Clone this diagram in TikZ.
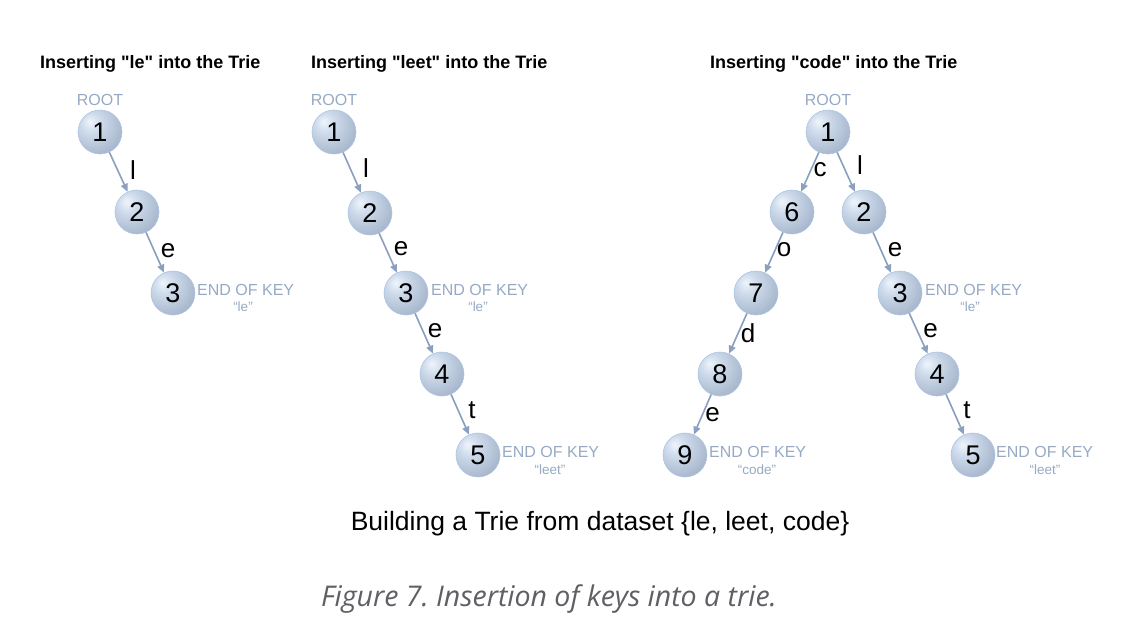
\documentclass[tikz,border=0pt]{standalone}
\usepackage{fontspec}
\setmainfont{Liberation Sans}
\newfontfamily\capfont{Open Sans}
\usetikzlibrary{arrows.meta}
\frenchspacing
\definecolor{ballhi}{RGB}{238,244,251}
\definecolor{ballmid}{RGB}{205,218,235}
\definecolor{ballc}{RGB}{170,185,206}
\definecolor{balldk}{RGB}{118,128,146}
\definecolor{ballrim}{RGB}{172,198,228}
\definecolor{edgec}{RGB}{138,160,190}
\definecolor{notec}{RGB}{150,170,196}
\definecolor{capc}{RGB}{95,95,100}
\pgfdeclareradialshading{ballshade}{\pgfpoint{-12bp}{12bp}}{color(0bp)=(ballhi); color(12bp)=(ballmid); color(32bp)=(ballc); color(58bp)=(balldk); color(80bp)=(balldk)}
\tikzset{
  ball/.style={circle, minimum size=44pt, inner sep=0pt, shading=ballshade, draw=ballrim, line width=0.6pt, font=\fontsize{27}{27}\selectfont, text=black},
  edge/.style={draw=edgec, line width=1.6pt, -{Triangle[width=7pt,length=8pt]}},
  lbl/.style={font=\fontsize{26}{26}\selectfont, text=black, inner sep=0pt},
  note/.style={font=\fontsize{16}{16}\selectfont, text=notec, inner sep=0pt},
  small/.style={font=\fontsize{13.5}{13.5}\selectfont, text=notec, inner sep=0pt},
  title/.style={font=\bfseries\fontsize{18}{18}\selectfont, anchor=west, inner sep=0pt}
}
\begin{document}
\begin{tikzpicture}[x=1pt,y=-1pt]
\useasboundingbox (0,0) rectangle (1144,632);
\fill[white] (0,0) rectangle (1144,632);
% titles
\node[title] (t1) at (40,64) {Inserting \textquotedbl le\textquotedbl{} into the Trie};
\node[title] (t2) at (311,64) {Inserting \textquotedbl leet\textquotedbl{} into the Trie};
\node[title] (t3) at (710,64) {Inserting \textquotedbl code\textquotedbl{} into the Trie};
% panel 1
\node[ball] (a1) at (100,132) {1};
\node[ball] (a2) at (137,212) {2};
\node[ball] (a3) at (173,293) {3};
\node[note] (ar) at (100,100) {ROOT};
\node[note, anchor=west] (ae) at (197,290) {END OF KEY};
\node[small] (aek) at (243,307) {“le”};
\draw[edge] (a1) -- node[lbl, xshift=14.5pt, yshift=2pt] {l} (a2);
\draw[edge] (a2) -- node[lbl, xshift=13pt, yshift=2pt] {e} (a3);
% panel 2
\node[ball] (b1) at (334,132) {1};
\node[ball] (b2) at (370,213) {2};
\node[ball] (b3) at (406,293) {3};
\node[ball] (b4) at (442,374) {4};
\node[ball] (b5) at (478,455) {5};
\node[note] (br) at (334,100) {ROOT};
\node[note, anchor=west] (be3) at (431,290) {END OF KEY};
\node[small] (bk3) at (478,307) {“le”};
\node[note, anchor=west] (be5) at (502,452) {END OF KEY};
\node[small] (bk5) at (550,470) {“leet”};
\draw[edge] (b1) -- node[lbl, xshift=14pt, yshift=4pt] {l} (b2);
\draw[edge] (b2) -- node[lbl, xshift=13pt, yshift=4pt] {e} (b3);
\draw[edge] (b3) -- node[lbl, xshift=11pt, yshift=3pt] {e} (b4);
\draw[edge] (b4) -- node[lbl, xshift=12pt, yshift=4pt] {t} (b5);
% panel 3
\node[ball] (c1) at (828,132) {1};
\node[ball] (c6) at (792,212) {6};
\node[ball] (c2) at (864,212) {2};
\node[ball] (c7) at (756,293) {7};
\node[ball] (c8) at (720,374) {8};
\node[ball] (c9) at (685,455) {9};
\node[ball] (c3) at (900,293) {3};
\node[ball] (c4) at (937,374) {4};
\node[ball] (c5) at (973,455) {5};
\node[note] (cr) at (828,100) {ROOT};
\node[note, anchor=west] (ce9) at (709,452) {END OF KEY};
\node[small] (ck9) at (757,470) {“code”};
\node[note, anchor=west] (ce3) at (925,290) {END OF KEY};
\node[small] (ck3) at (970,307) {“le”};
\node[note, anchor=west] (ce5) at (996,452) {END OF KEY};
\node[small] (ck5) at (1045,470) {“leet”};
\draw[edge] (c1) -- node[lbl, xshift=10pt, yshift=2pt] {c} (c6);
\draw[edge] (c1) -- node[lbl, xshift=14pt, yshift=7pt] {l} (c2);
\draw[edge] (c6) -- node[lbl, xshift=10pt, yshift=3pt] {o} (c7);
\draw[edge] (c7) -- node[lbl, xshift=10pt] {d} (c8);
\draw[edge] (c8) -- node[lbl, xshift=10pt] {e} (c9);
\draw[edge] (c2) -- node[lbl, xshift=13pt, yshift=3pt] {e} (c3);
\draw[edge] (c3) -- node[lbl, xshift=12pt, yshift=3pt] {e} (c4);
\draw[edge] (c4) -- node[lbl, xshift=12pt, yshift=4pt] {t} (c5);
% captions
\node[font=\fontsize{26.5}{26.5}\selectfont, inner sep=0pt] (cap1) at (600,524) {Building a Trie from dataset \{le, leet, code\}};
\node[font=\capfont\itshape\fontsize{28.5}{28.5}\selectfont, text=capc, inner sep=0pt] (cap2) at (549,599) {Figure 7. Insertion of keys into a trie.};
\end{tikzpicture}
\end{document}
